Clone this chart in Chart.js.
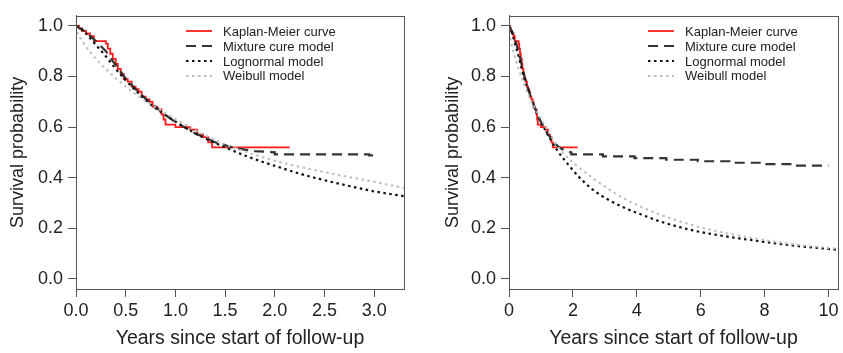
<!DOCTYPE html>
<html>
<head>
<meta charset="utf-8">
<script src="https://cdn.jsdelivr.net/npm/chart.js@4.4.1/dist/chart.umd.min.js"></script>
<style>
  html, body { margin: 0; padding: 0; background: #fff; }
  #wrap { position: relative; width: 843px; height: 353px; overflow: hidden; font-family: 'Liberation Sans', Arial, sans-serif; }
  #wrap canvas { position: absolute; top: 0; }
  .legend { position: absolute; font-size: 13px; color: #222; }
  .legend-row { display: flex; align-items: center; height: 14.8px; white-space: nowrap; }
  .legend-row svg { flex: none; margin-right: 11px; }
</style>
</head>
<body>
<div id="wrap">
  <canvas id="left-chart" width="421" height="353" style="left:0;"></canvas>
  <canvas id="right-chart" width="422" height="353" style="left:421px;"></canvas>
  <div class="legend" id="legend-left" style="left:186px;top:24px;"></div>
  <div class="legend" id="legend-right" style="left:648px;top:24px;"></div>
</div>
<script>
/* ═══════════════════════════════════════════════════════════
   Survival curves — KM vs. parametric models (two panels)
   ═══════════════════════════════════════════════════════════ */

// ── Kaplan-Meier (same curve in both panels) ──
const kmTime = [0, 0.03, 0.06, 0.10, 0.14, 0.18, 0.30, 0.32, 0.345, 0.37, 0.40, 0.42, 0.45, 0.48, 0.52, 0.56, 0.60, 0.63, 0.66, 0.70, 0.74, 0.77, 0.82, 0.86, 0.88, 0.90, 1.00, 1.15, 1.22, 1.28, 1.33, 1.37, 2.15];
const kmSurv = [1.00, 0.99, 0.98, 0.97, 0.96, 0.94, 0.93, 0.91, 0.89, 0.87, 0.85, 0.83, 0.81, 0.79, 0.78, 0.76, 0.75, 0.74, 0.72, 0.71, 0.70, 0.68, 0.67, 0.65, 0.63, 0.61, 0.60, 0.59, 0.57, 0.56, 0.54, 0.52, 0.52];

// ── left panel (0 – 3.3 years) ──
const mixTimeL = [0, 0.1, 0.2, 0.3, 0.4, 0.5, 0.6, 0.7, 0.8, 0.9, 1.0, 1.2, 1.4, 1.6, 1.8, 2.0, 2.0, 2.95, 2.95, 3.0];
const mixSurvL = [1.0, 0.975, 0.94, 0.90, 0.845, 0.792, 0.75, 0.712, 0.68, 0.648, 0.62, 0.575, 0.54, 0.517, 0.505, 0.50, 0.492, 0.492, 0.488, 0.488];
const lnTimeL = [0, 0.05, 0.1, 0.2, 0.3, 0.4, 0.5, 0.6, 0.75, 1.0, 1.25, 1.5, 1.75, 2.0, 2.25, 2.5, 2.75, 3.0, 3.3];
const lnSurvL = [1.0, 0.99, 0.97, 0.925, 0.88, 0.83, 0.785, 0.745, 0.69, 0.622, 0.565, 0.52, 0.48, 0.447, 0.416, 0.39, 0.367, 0.346, 0.327];
const wbTimeL = [0, 0.02, 0.05, 0.1, 0.2, 0.3, 0.4, 0.5, 0.6, 0.75, 0.85, 1.0, 1.25, 1.5, 1.75, 2.0, 2.25, 2.5, 2.75, 3.0, 3.3];
const wbSurvL = [1.0, 0.968, 0.948, 0.918, 0.87, 0.83, 0.793, 0.76, 0.73, 0.69, 0.667, 0.632, 0.578, 0.532, 0.497, 0.467, 0.443, 0.422, 0.402, 0.384, 0.359];

// ── right panel (0 – 10.3 years) ──
const mixTimeR = [0, 0.1, 0.2, 0.3, 0.4, 0.5, 0.6, 0.7, 0.8, 0.9, 1.0, 1.2, 1.4, 1.6, 1.8, 1.95, 1.95, 2.94, 2.94, 3.93, 3.93, 4.92, 4.92, 5.91, 5.91, 6.9, 6.9, 7.94, 7.94, 8.93, 8.93, 10.0];
const mixSurvR = [1.0, 0.975, 0.94, 0.90, 0.845, 0.792, 0.75, 0.712, 0.68, 0.648, 0.62, 0.575, 0.54, 0.517, 0.505, 0.50, 0.492, 0.492, 0.484, 0.484, 0.477, 0.477, 0.471, 0.471, 0.465, 0.465, 0.459, 0.459, 0.454, 0.454, 0.448, 0.448];
const lnTimeR = [0, 0.05, 0.1, 0.2, 0.3, 0.4, 0.5, 0.6, 0.75, 1.0, 1.25, 1.5, 1.9, 2.21, 2.63, 3.15, 3.67, 4.19, 4.71, 5.75, 6.79, 7.83, 8.88, 10.3];
const lnSurvR = [1.0, 0.99, 0.97, 0.925, 0.88, 0.83, 0.785, 0.745, 0.69, 0.622, 0.562, 0.51, 0.445, 0.40, 0.352, 0.31, 0.278, 0.252, 0.228, 0.192, 0.168, 0.149, 0.132, 0.115];
const wbTimeR = [0, 0.02, 0.05, 0.1, 0.2, 0.3, 0.4, 0.5, 0.6, 0.75, 1.0, 1.25, 1.5, 1.75, 2.1, 2.63, 3.15, 3.67, 4.19, 4.71, 5.75, 6.79, 7.83, 8.88, 10.3];
const wbSurvR = [1.0, 0.968, 0.948, 0.918, 0.87, 0.83, 0.793, 0.76, 0.73, 0.69, 0.632, 0.578, 0.528, 0.49, 0.45, 0.398, 0.352, 0.313, 0.282, 0.255, 0.212, 0.181, 0.157, 0.137, 0.119];

// ── axes ──
const yTicks = [0, 0.2, 0.4, 0.6, 0.8, 1.0];
const yLabels = ['0.0', '0.2', '0.4', '0.6', '0.8', '1.0'];
const xTicksL = [0, 0.5, 1, 1.5, 2, 2.5, 3];
const xLabelsL = ['0.0', '0.5', '1.0', '1.5', '2.0', '2.5', '3.0'];
const xTicksR = [0, 2, 4, 6, 8, 10];
const xLabelsR = ['0', '2', '4', '6', '8', '10'];
const seriesNames = ['Kaplan-Meier curve', 'Mixture cure model', 'Lognormal model', 'Weibull model'];

// line look per series, same order as seriesNames
const LOOK = [
  { color: '#ff1a1a', width: 1.8, dash: [] },
  { color: '#333333', width: 2.2, dash: [10, 6] },
  { color: '#111111', width: 2.2, dash: [2.5, 3.5] },
  { color: '#bdbdbd', width: 2.0, dash: [2.5, 3.5] },
];

Chart.defaults.font.family = "'Liberation Sans', Arial, sans-serif";
Chart.defaults.font.size = 18;
Chart.defaults.color = '#222';

const pts = (xs, ys) => xs.map((x, i) => ({ x, y: ys[i] }));

const boxPlugin = {
  id: 'box',
  afterDatasetsDraw(chart) {
    const { ctx, chartArea: a } = chart;
    ctx.save();
    ctx.strokeStyle = '#555';
    ctx.lineWidth = 1;
    ctx.strokeRect(Math.round(a.left) + 0.5, Math.round(a.top) + 0.5, Math.round(a.right - a.left), Math.round(a.bottom - a.top));
    ctx.restore();
  }
};

function buildChart(id, cfg) {
  const series = [
    { data: pts(kmTime, kmSurv), stepped: 'before', order: 4 },
    { data: pts(cfg.mixT, cfg.mixS), tension: 0, order: 3 },
    { data: pts(cfg.lnT, cfg.lnS), cubicInterpolationMode: 'monotone', order: 2 },
    { data: pts(cfg.wbT, cfg.wbS), cubicInterpolationMode: 'monotone', order: 1 },
  ];
  const datasets = series.map((s, i) => Object.assign({
    label: seriesNames[i], showLine: true, pointRadius: 0,
    borderColor: LOOK[i].color, borderWidth: LOOK[i].width, borderDash: LOOK[i].dash,
    borderCapStyle: 'butt', fill: false,
  }, s));

  return new Chart(document.getElementById(id), {
    type: 'scatter',
    data: { datasets },
    plugins: [boxPlugin],
    options: {
      responsive: false, animation: false,
      layout: { padding: { top: 7, right: cfg.padRight, bottom: 0, left: 0 } },
      plugins: { legend: { display: false }, tooltip: { enabled: false } },
      scales: {
        x: {
          type: 'linear', min: 0, max: cfg.xMax,
          afterBuildTicks: s => { s.ticks = cfg.xTicks.map(v => ({ value: v })); },
          afterFit: s => { s.height = 64; },
          ticks: { padding: 3, callback: v => cfg.xLabels[cfg.xTicks.indexOf(v)] },
          grid: { drawOnChartArea: false, tickLength: 8, color: '#555' },
          border: { color: '#555' },
          title: { display: true, text: 'Years since start of follow-up', font: { size: 19.5 }, padding: { top: 0, bottom: 2.5 } }
        },
        y: {
          type: 'linear', min: -0.04, max: 1.04,
          afterBuildTicks: s => { s.ticks = yTicks.map(v => ({ value: v })); },
          afterFit: s => { s.width = cfg.yWidth; },
          ticks: { padding: 5, callback: v => yLabels[yTicks.indexOf(v)] },
          grid: { drawOnChartArea: false, tickLength: 8, color: '#555' },
          border: { color: '#555' },
          title: { display: true, text: 'Survival probability', padding: { top: cfg.yTitlePad, bottom: 0 } }
        }
      }
    }
  });
}

function buildLegend(id) {
  const box = document.getElementById(id);
  box.innerHTML = seriesNames.map((name, i) => `
    <div class="legend-row"><svg width="26" height="10"><line x1="0" y1="5" x2="26" y2="5" stroke="${LOOK[i].color}" stroke-width="${LOOK[i].width}" stroke-dasharray="${LOOK[i].dash.join(' ') || 'none'}"/></svg><span>${name}</span></div>`).join('');
}

buildChart('left-chart', {
  mixT: mixTimeL, mixS: mixSurvL, lnT: lnTimeL, lnS: lnSurvL, wbT: wbTimeL, wbS: wbSurvL,
  xMax: 3.3, xTicks: xTicksL, xLabels: xLabelsL, yWidth: 76, padRight: 17, yTitlePad: 7.5
});
buildChart('right-chart', {
  mixT: mixTimeR, mixS: mixSurvR, lnT: lnTimeR, lnS: lnSurvR, wbT: wbTimeR, wbS: wbSurvR,
  xMax: 10.3, xTicks: xTicksR, xLabels: xLabelsR, yWidth: 88, padRight: 5, yTitlePad: 21
});
buildLegend('legend-left');
buildLegend('legend-right');
</script>
</body>
</html>
